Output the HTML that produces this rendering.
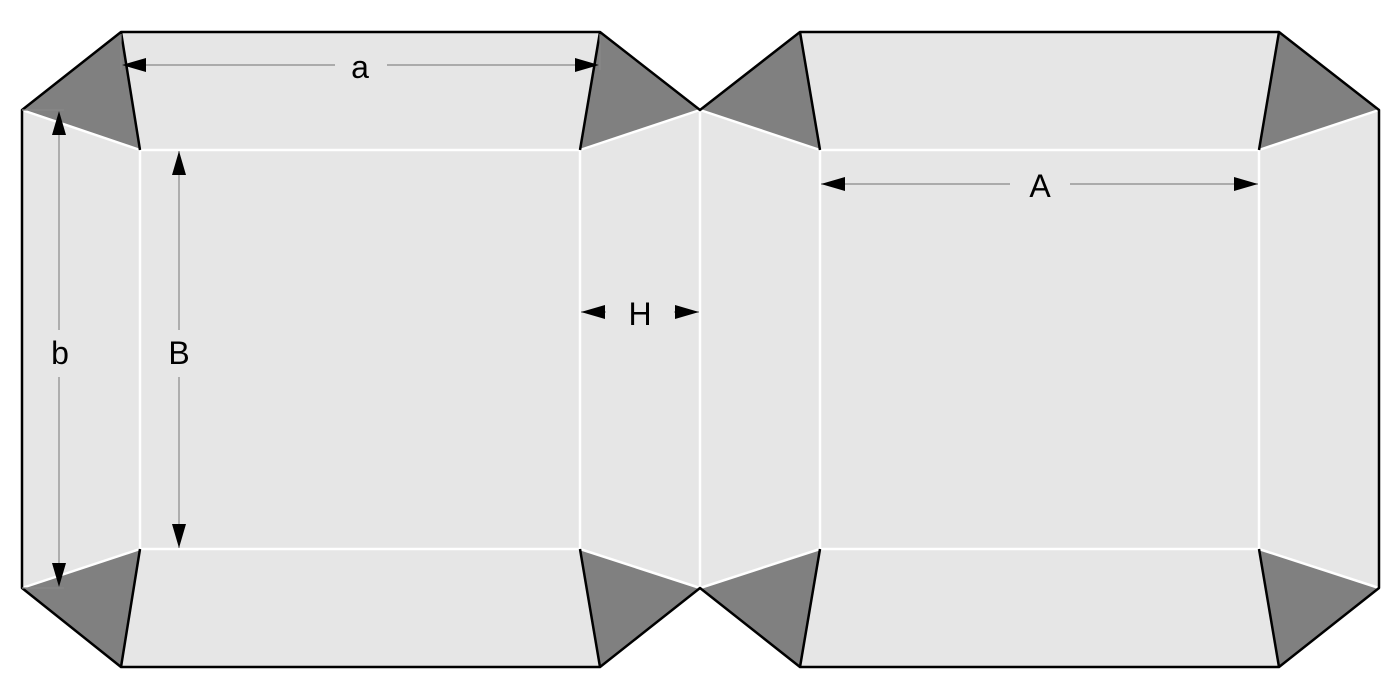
<!DOCTYPE html>
<html><head><meta charset="utf-8"><style>html,body{margin:0;padding:0;background:#fff}svg{display:block}</style></head>
<body>
<svg width="1400" height="700" viewBox="0 0 1400 700" xmlns="http://www.w3.org/2000/svg" font-family="Liberation Sans, sans-serif">
<defs>
<marker id="ar" viewBox="0 0 24 14" refX="24" refY="7" markerWidth="24" markerHeight="14" markerUnits="userSpaceOnUse" orient="auto"><path d="M0,0 L24,7 L0,14 Z" fill="#000"/></marker>
</defs>
<polygon points="121,32 600,32 700,110 800,32 1279,32 1379,110 1379,588 1279,667 800,667 700,588 600,667 121,667 22,588 22,110" fill="#e6e6e6"/>
<g fill="#808080">
<polygon points="121,32 22,110 140,150"/><polygon points="600,32 700,110 580,150"/>
<polygon points="22,588 121,667 140,549"/><polygon points="580,549 600,667 700,588"/>
<polygon points="800,32 700,110 820,150"/><polygon points="1279,32 1379,110 1259,150"/>
<polygon points="700,588 800,667 820,549"/><polygon points="1259,549 1279,667 1379,588"/>
</g>
<g stroke="#fff" stroke-width="2.5" fill="none">
<rect x="140" y="150" width="440" height="399"/>
<rect x="820" y="150" width="439" height="399"/>
<line x1="700" y1="110" x2="700" y2="588"/>
<line x1="22" y1="110" x2="140" y2="150"/><line x1="700" y1="110" x2="580" y2="150"/>
<line x1="22" y1="588" x2="140" y2="549"/><line x1="700" y1="588" x2="580" y2="549"/>
<line x1="700" y1="110" x2="820" y2="150"/><line x1="1379" y1="110" x2="1259" y2="150"/>
<line x1="700" y1="588" x2="820" y2="549"/><line x1="1379" y1="588" x2="1259" y2="549"/>
</g>
<g stroke="#000" stroke-width="2.5" fill="none" stroke-linejoin="round">
<polygon points="121,32 600,32 700,110 800,32 1279,32 1379,110 1379,588 1279,667 800,667 700,588 600,667 121,667 22,588 22,110"/>
<line x1="121" y1="32" x2="140" y2="150"/><line x1="600" y1="32" x2="580" y2="150"/>
<line x1="121" y1="667" x2="140" y2="549"/><line x1="600" y1="667" x2="580" y2="549"/>
<line x1="800" y1="32" x2="820" y2="150"/><line x1="1279" y1="32" x2="1259" y2="150"/>
<line x1="800" y1="667" x2="820" y2="549"/><line x1="1279" y1="667" x2="1259" y2="549"/>
</g>
<g stroke="#888" stroke-width="1.2" fill="none">
<line x1="121" y1="34" x2="121" y2="70"/><line x1="600" y1="34" x2="600" y2="70"/>
<line x1="22" y1="110" x2="64" y2="110"/><line x1="22" y1="588" x2="64" y2="588"/>
<line x1="335" y1="65" x2="122" y2="65" marker-end="url(#ar)"/>
<line x1="387" y1="65" x2="599" y2="65" marker-end="url(#ar)"/>
<line x1="59" y1="330" x2="59" y2="111" marker-end="url(#ar)"/>
<line x1="59" y1="377" x2="59" y2="587" marker-end="url(#ar)"/>
<line x1="179" y1="330" x2="179" y2="151" marker-end="url(#ar)"/>
<line x1="179" y1="377" x2="179" y2="548" marker-end="url(#ar)"/>
<line x1="606" y1="312" x2="581" y2="312" marker-end="url(#ar)"/>
<line x1="674" y1="312" x2="699" y2="312" marker-end="url(#ar)"/>
<line x1="1010" y1="184" x2="821" y2="184" marker-end="url(#ar)"/>
<line x1="1070" y1="184" x2="1258" y2="184" marker-end="url(#ar)"/>
</g>
<g font-size="32" fill="#000" text-anchor="middle">
<text x="360" y="78">a</text>
<text x="60" y="364">b</text>
<text x="179" y="364">B</text>
<text x="640" y="325">H</text>
<text x="1040" y="197">A</text>
</g>
</svg>
</body></html>
